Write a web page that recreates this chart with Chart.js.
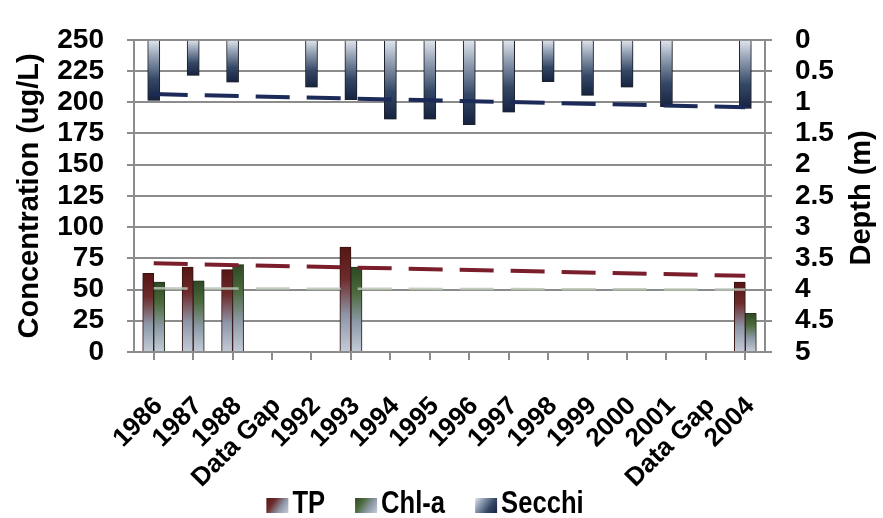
<!DOCTYPE html>
<html>
<head>
<meta charset="utf-8">
<title>TP, Chl-a and Secchi</title>
<script src="https://cdn.jsdelivr.net/npm/chart.js@4.4.1/dist/chart.umd.min.js"></script>
<style>
  html, body { margin: 0; padding: 0; background: #fff; }
</style>
</head>
<body>
<canvas id="chart" width="883" height="518"></canvas>
<script>
// categories (two gaps in the record)
const years = ['1986', '1987', '1988', 'Data Gap', '1992', '1993', '1994', '1995',
  '1996', '1997', '1998', '1999', '2000', '2001', 'Data Gap', '2004'];

// concentrations, ug/L (left axis)
const tp   = [63, 68, 66, null, null, 84, null, null, null, null, null, null, null, null, null, 56];
const chla = [56, 57, 70, null, null, 68, null, null, null, null, null, null, null, null, null, 31];

// Secchi depth, m (right axis, upside down)
const secchi = [0.97, 0.57, 0.68, null, 0.76, 0.96, 1.27, 1.27, 1.36, 1.16, 0.67, 0.89, 0.76, 1.07, null, 1.10];

// linear trend lines: only the end points, the line is drawn straight between them
const tpTrend     = [71, null, null, null, null, null, null, null, null, null, null, null, null, null, null, 61];
const chlaTrend   = [51, null, null, null, null, null, null, null, null, null, null, null, null, null, null, 50];
const secchiTrend = [0.87, null, null, null, null, null, null, null, null, null, null, null, null, null, null, 1.08];

// axis ticks
const concTicks  = [0, 25, 50, 75, 100, 125, 150, 175, 200, 225, 250];
const depthTicks = ['0', '0.5', '1', '1.5', '2', '2.5', '3', '3.5', '4', '4.5', '5'];

const FONT = '"Liberation Sans", Arial, sans-serif';
const GRID = '#8c8c8c';

// gradient from the value end of the bar down to its base
function barFill(axisId, stops) {
	return function(ctx) {
		const chart = ctx.chart;
		if (!chart.chartArea || ctx.type !== 'data' || ctx.raw == null) return stops[0][1];
		const scale = chart.scales[axisId];
		const yEnd = scale.getPixelForValue(ctx.raw);
		const yBase = scale.getPixelForValue(0);
		const g = chart.ctx.createLinearGradient(0, yEnd, 0, yBase);
		stops.forEach(s => g.addColorStop(s[0], s[1]));
		return g;
	};
}

const tpStops     = [[0, '#561616'], [0.3, '#6d2b2b'], [0.65, '#8e97a8'], [1, '#c4ccd8']];
const chlaStops   = [[0, '#2e4824'], [0.3, '#4c6a3c'], [0.65, '#8e9aa8'], [1, '#c4ccd8']];
const secchiStops = [[0, '#15223f'], [0.35, '#344866'], [0.75, '#9aa6b8'], [1, '#e2e7ee']];

const legendItems = [
	{ text: 'TP', stops: tpStops },
	{ text: 'Chl-a', stops: chlaStops },
	{ text: 'Secchi', stops: secchiStops.slice().reverse().map(s => [1 - s[0], s[1]]) }
];

const extras = {
	id: 'extras',
	beforeDatasetDraw(chart, args) {
		if (args.meta.type !== 'bar') return;
		const c = chart.ctx;
		c.save();
		c.shadowColor = 'rgba(40,40,40,0.45)';
		c.shadowBlur = 8;
		c.shadowOffsetX = 2;
		c.shadowOffsetY = 2;
	},
	afterDatasetDraw(chart, args) {
		if (args.meta.type === 'bar') chart.ctx.restore();
	},
	afterDraw(chart) {
		const c = chart.ctx;
		const area = chart.chartArea;
		const midY = (area.top + area.bottom) / 2;
		c.save();
		c.fillStyle = '#000';
		c.font = 'bold 29px ' + FONT;
		c.textAlign = 'center';
		c.textBaseline = 'alphabetic';
		// axis titles, both reading bottom to top
		c.save();
		c.translate(38, midY);
		c.rotate(-Math.PI / 2);
		c.fillText('Concentration (ug/L)', 0, 0);
		c.restore();
		c.save();
		c.translate(870, midY + 2);
		c.rotate(-Math.PI / 2);
		c.fillText('Depth (m)', 0, 0);
		c.restore();

		// legend, condensed text
		const squeeze = 0.8;
		c.font = 'bold 32px ' + FONT;
		c.textAlign = 'left';
		const boxW = 22, boxH = 15, gap = 4, space = 30;
		let total = 0;
		legendItems.forEach((it, i) => {
			it.w = c.measureText(it.text).width * squeeze;
			total += boxW + gap + it.w + (i ? space : 0);
		});
		let x = 425 - total / 2;
		const base = 513;
		legendItems.forEach(it => {
			const g = c.createLinearGradient(x, base - boxH, x + boxW, base);
			it.stops.forEach(s => g.addColorStop(s[0], s[1]));
			c.fillStyle = g;
			c.fillRect(x, base - boxH, boxW, boxH);
			c.fillStyle = '#000';
			c.save();
			c.translate(x + boxW + gap, base);
			c.scale(squeeze, 1);
			c.fillText(it.text, 0, 0);
			c.restore();
			x += boxW + gap + it.w + space;
		});
		c.restore();
	}
};

new Chart(document.getElementById('chart'), {
	type: 'bar',
	data: {
		labels: years,
		datasets: [
			{
				type: 'line', label: 'TP trend', data: tpTrend, yAxisID: 'y',
				borderColor: '#7a1e2c', borderWidth: 4, borderDash: [34, 17],
				pointRadius: 0, spanGaps: true, fill: false
			},
			{
				type: 'line', label: 'Chl-a trend', data: chlaTrend, yAxisID: 'y',
				borderColor: 'rgba(185,198,180,0.85)', borderWidth: 2.5, borderDash: [34, 17],
				pointRadius: 0, spanGaps: true, fill: false
			},
			{
				type: 'line', label: 'Secchi trend', data: secchiTrend, yAxisID: 'y2',
				borderColor: '#1b2a58', borderWidth: 4, borderDash: [34, 17],
				pointRadius: 0, spanGaps: true, fill: false
			},
			{
				label: 'TP', data: tp, yAxisID: 'y',
				backgroundColor: barFill('y', tpStops),
				borderColor: '#3a0f0f', borderWidth: 1, barThickness: 11
			},
			{
				label: 'Chl-a', data: chla, yAxisID: 'y',
				backgroundColor: barFill('y', chlaStops),
				borderColor: '#243a1a', borderWidth: 1, barThickness: 11
			},
			{
				label: 'Secchi', data: secchi, yAxisID: 'y2', grouped: false,
				backgroundColor: barFill('y2', secchiStops),
				borderColor: '#1a1f2c', borderWidth: 1, barThickness: 12
			}
		]
	},
	options: {
		responsive: false,
		animation: false,
		layout: { padding: { top: 24, right: 0, bottom: 26, left: 0 } },
		plugins: {
			legend: { display: false },
			tooltip: { enabled: false }
		},
		scales: {
			x: {
				offset: true,
				grid: { offset: false, drawOnChartArea: false, color: GRID, lineWidth: 2, tickLength: 8 },
				border: { color: GRID, width: 2 },
				ticks: {
					autoSkip: false, maxRotation: 45, minRotation: 45, padding: 31, labelOffset: 5,
					color: '#000', font: { family: FONT, size: 26, weight: 'bold' }
				},
				afterFit: s => { s.height = 140; }
			},
			y: {
				position: 'left', min: 0, max: 250,
				afterBuildTicks: s => { s.ticks = concTicks.map(v => ({ value: v })); },
				grid: { color: GRID, lineWidth: 2, tickLength: 7 },
				border: { color: GRID, width: 2 },
				ticks: { autoSkip: false, padding: 23, color: '#000', font: { family: FONT, size: 28, weight: 'bold' } },
				afterFit: s => { s.width = 134; }
			},
			y2: {
				position: 'right', min: 0, max: 5, reverse: true,
				afterBuildTicks: s => { s.ticks = depthTicks.map(v => ({ value: Number(v) })); },
				grid: { drawOnChartArea: false, color: GRID, lineWidth: 2, tickLength: 7 },
				border: { color: GRID, width: 2 },
				ticks: {
					autoSkip: false, padding: 23, color: '#000', font: { family: FONT, size: 28, weight: 'bold' },
					callback: (v, i) => depthTicks[i]
				},
				afterFit: s => { s.width = 118; }
			}
		}
	},
	plugins: [extras]
});
</script>
</body>
</html>
